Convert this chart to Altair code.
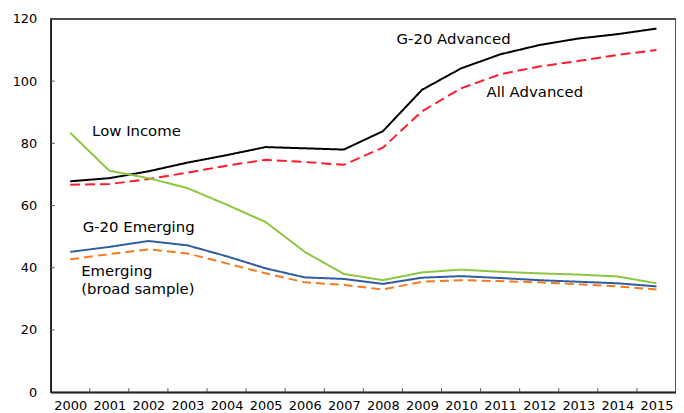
import altair as alt
import pandas as pd

years = list(range(2000, 2016))
g20_advanced = [67.8, 68.8, 71.0, 73.8, 76.2, 78.8, 78.4, 78.0, 83.9, 97.2, 104.1, 108.6, 111.6, 113.7, 115.1, 116.9]
all_advanced = [66.7, 66.9, 68.5, 70.6, 72.8, 74.7, 74.0, 73.1, 78.6, 90.3, 97.7, 102.2, 104.7, 106.5, 108.4, 110.0]
low_income = [83.4, 71.2, 68.8, 65.6, 60.3, 54.7, 45.1, 38.0, 36.0, 38.5, 39.4, 38.7, 38.2, 37.8, 37.2, 35.0]
g20_emerging = [45.1, 46.7, 48.6, 47.2, 43.7, 39.8, 36.9, 36.4, 34.8, 36.8, 37.3, 36.7, 36.0, 35.5, 35.0, 34.0]
emerging_broad = [42.7, 44.4, 45.9, 44.6, 41.4, 38.2, 35.3, 34.5, 33.0, 35.5, 36.0, 35.7, 35.3, 34.7, 34.0, 33.0]

series_names = ["G-20 Advanced", "All Advanced", "Low Income", "G-20 Emerging", "Emerging (broad sample)"]
series_colors = ["#000000", "#ff1a2e", "#8dc63f", "#2e5c9e", "#f47b20"]
series_dash = [[1, 0], [10, 5], [1, 0], [1, 0], [9, 5]]
series_width = [2, 2, 1.6, 2, 2]

y_ticks = [0, 20, 40, 60, 80, 100, 120]
x_boundaries = [y + 0.5 for y in years[:-1]]

label_text = ["G-20 Advanced", "All Advanced", "Low Income", "G-20 Emerging", "Emerging", "(broad sample)"]
label_x = [2008.35, 2010.65, 2000.56, 2000.32, 2000.28, 2000.28]
label_y = [113.6, 96.4, 83.8, 53.2, 38.9, 33.2]

rows = []
for name, vals in zip(series_names, [g20_advanced, all_advanced, low_income, g20_emerging, emerging_broad]):
    for yr, v in zip(years, vals):
        rows.append({"year": yr, "value": v, "series": name})
df = pd.DataFrame(rows)

FONT = "DejaVu Sans"
W, H = 630, 376

xscale = alt.Scale(domain=[1999.5, 2015.5], nice=False, zero=False)
yscale = alt.Scale(domain=[0, 120], nice=False)

lines = alt.Chart(df).mark_line().encode(
    x=alt.X("year:Q", scale=xscale,
            axis=alt.Axis(values=years, format="d", title=None, ticks=False, grid=False,
                          labelFont=FONT, labelFontSize=13, labelColor="#000",
                          labelPadding=7, domainColor="#000", domainWidth=1.5,
                          labelOverlap=False, labelFlush=False)),
    y=alt.Y("value:Q", scale=yscale,
            axis=alt.Axis(values=y_ticks, title=None, ticks=False, grid=False,
                          labelFont=FONT, labelFontSize=13, labelColor="#000",
                          labelPadding=14, domainColor="#000", domainWidth=1.5)),
    color=alt.Color("series:N", scale=alt.Scale(domain=series_names, range=series_colors), legend=None),
    strokeDash=alt.StrokeDash("series:N", scale=alt.Scale(domain=series_names, range=series_dash), legend=None),
    strokeWidth=alt.StrokeWidth("series:N", scale=alt.Scale(domain=series_names, range=series_width), legend=None),
)

xt = alt.Chart(pd.DataFrame({"b": x_boundaries})).mark_rule(color="#555", strokeWidth=1).encode(
    x=alt.X("b:Q", scale=xscale),
    y=alt.value(H), y2=alt.value(H - 4),
)
yt = alt.Chart(pd.DataFrame({"t": y_ticks[1:-1]})).mark_rule(color="#555", strokeWidth=1).encode(
    y=alt.Y("t:Q", scale=yscale),
    x=alt.value(0), x2=alt.value(4),
)

frame = alt.Chart(pd.DataFrame({"k": [0]})).mark_rect(
    fill="white", fillOpacity=0, stroke="#333", strokeWidth=1.3
).encode(
    x=alt.value(0), x2=alt.value(W), y=alt.value(0), y2=alt.value(H)
)

labels = alt.Chart(pd.DataFrame({"x": label_x, "y": label_y, "t": label_text})).mark_text(
    font=FONT, fontSize=15, align="left", baseline="middle", color="#000"
).encode(
    x=alt.X("x:Q", scale=xscale),
    y=alt.Y("y:Q", scale=yscale),
    text="t:N",
)

chart = alt.layer(frame, lines, xt, yt, labels).properties(
    width=W, height=H,
    background="white",
    autosize=alt.AutoSizeParams(type="none"),
    padding={"left": 43, "top": 9.5, "right": 0, "bottom": 20},
).configure_view(stroke="#333", strokeWidth=1.3)

chart.save("out.html", embed_options={"renderer": "svg", "actions": False})
